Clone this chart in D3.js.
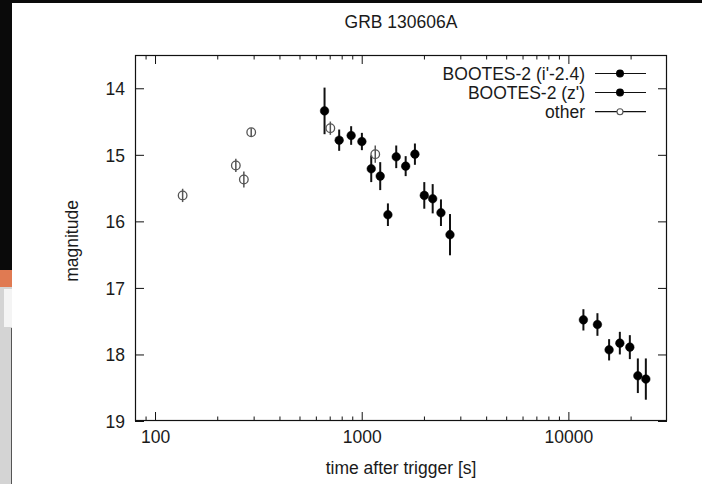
<!DOCTYPE html>
<html><head><meta charset="utf-8">
<script src="https://cdn.jsdelivr.net/npm/d3@7/dist/d3.min.js"></script>
<style>
body{margin:0;background:#fff;}
svg{display:block;}
text{font-family:"Liberation Sans",Arial,Helvetica,sans-serif;fill:#1a1a1a;}
</style>
</head><body>
<svg id="chart" width="702" height="484"></svg>
<script>
// ---- data ----
const title = "GRB 130606A";
const xLabel = "time after trigger [s]";
const yLabel = "magnitude";
const xDomain = [80, 30000];
const yDomain = [13.5, 19];
const xTickValues = [100, 1000, 10000];
const xTickLabels = ["100", "1000", "10000"];
const xMinorTicks = [80, 90, 200, 300, 400, 500, 600, 700, 800, 900, 2000, 3000, 4000, 5000, 6000, 7000, 8000, 9000, 20000];
const yTickValues = [14, 15, 16, 17, 18, 19];
const yTickLabels = ["14", "15", "16", "17", "18", "19"];
const seriesNames = ["BOOTES-2 (i'-2.4)", "BOOTES-2 (z')", "other"];

const iTime = [661, 778, 889, 1002, 1112, 1229, 1339, 1469, 1632, 1809, 2008, 2205, 2418, 2674];
const iMag  = [14.34, 14.78, 14.71, 14.80, 15.21, 15.32, 15.90, 15.03, 15.17, 14.99, 15.61, 15.66, 15.87, 16.20];
const iErr  = [0.35, 0.16, 0.14, 0.13, 0.20, 0.21, 0.17, 0.17, 0.15, 0.16, 0.20, 0.22, 0.20, 0.31];

const zTime = [11820, 13820, 15740, 17740, 19830, 21680, 23700];
const zMag  = [17.48, 17.55, 17.93, 17.83, 17.89, 18.32, 18.37];
const zErr  = [0.16, 0.17, 0.16, 0.17, 0.18, 0.26, 0.31];

const oTime = [136, 246, 269, 292, 705, 1163];
const oMag  = [15.61, 15.16, 15.37, 14.66, 14.60, 14.99];
const oErr  = [0.10, 0.10, 0.12, 0.06, 0.10, 0.13];

// ---- layout ----
const L = 135, R = 667, T = 55, B = 421;
const svg = d3.select("#chart");

// screenshot artefacts at the edges
svg.append("rect").attr("x", 0).attr("y", 0).attr("width", 702).attr("height", 3).attr("fill", "#0a0a0a");
svg.append("rect").attr("x", 0).attr("y", 0).attr("width", 12).attr("height", 270).attr("fill", "#0a0a0a");
svg.append("rect").attr("x", 0).attr("y", 270).attr("width", 12).attr("height", 17).attr("fill", "#e07a52");
svg.append("rect").attr("x", 0).attr("y", 287).attr("width", 12).attr("height", 197).attr("fill", "#d4d4d4");
svg.append("rect").attr("x", 4).attr("y", 289).attr("width", 8).attr("height", 38).attr("fill", "#f4f4f4");
svg.append("line").attr("x1", 11.5).attr("x2", 11.5).attr("y1", 328).attr("y2", 484).attr("stroke", "#555").attr("stroke-width", 1);

const x = d3.scaleLog().domain(xDomain).range([L, R]);
const y = d3.scaleLinear().domain(yDomain).range([T, B]);

// axes (ticks inward)
const major = 9, minor = 4.5;
function noLabels(g){ g.selectAll("text").remove(); g.select(".domain").remove(); }
svg.append("g").attr("transform", `translate(0,${B})`)
  .call(d3.axisBottom(x).tickValues(xTickValues).tickSize(-major).tickFormat((d,i)=>xTickLabels[i]).tickPadding(0))
  .call(g => { g.select(".domain").remove();
    g.selectAll("text").attr("y", 22).attr("dy", 0).attr("font-size", "17.5px").style("font-family","Liberation Sans, Arial, sans-serif").attr("fill","#1a1a1a"); });
svg.append("g").attr("transform", `translate(0,${B})`).call(d3.axisBottom(x).tickValues(xMinorTicks).tickSize(-minor)).call(noLabels);
svg.append("g").attr("transform", `translate(0,${T})`).call(d3.axisTop(x).tickValues(xTickValues).tickSize(-major)).call(noLabels);
svg.append("g").attr("transform", `translate(0,${T})`).call(d3.axisTop(x).tickValues(xMinorTicks).tickSize(-minor)).call(noLabels);
svg.append("g").attr("transform", `translate(${L},0)`)
  .call(d3.axisLeft(y).tickValues(yTickValues).tickSize(-major).tickFormat((d,i)=>yTickLabels[i]).tickPadding(0))
  .call(g => { g.select(".domain").remove();
    g.selectAll("text").attr("x", -10).attr("dy", "0.36em").attr("font-size", "17.5px").style("font-family","Liberation Sans, Arial, sans-serif").attr("fill","#1a1a1a"); });
svg.append("g").attr("transform", `translate(${R},0)`).call(d3.axisRight(y).tickValues(yTickValues).tickSize(-major)).call(noLabels);
svg.selectAll(".tick line").attr("stroke", "#111");

// frame
svg.append("rect").attr("x", L + 0.5).attr("y", T + 0.5).attr("width", R - L - 1).attr("height", B - T - 1)
  .attr("fill", "none").attr("stroke", "#111").attr("stroke-width", 1.2);

// titles
svg.append("text").attr("x", (L + R) / 2).attr("y", 28).attr("text-anchor", "middle").attr("font-size", "17.5px").text(title);
svg.append("text").attr("x", (L + R) / 2).attr("y", 474).attr("text-anchor", "middle").attr("font-size", "17.5px").text(xLabel);
svg.append("text").attr("transform", `translate(78,${(T + B) / 2 + 3}) rotate(-90)`).attr("text-anchor", "middle").attr("font-size", "17.5px").text(yLabel);

// data series
function drawSeries(times, mags, errs, filled) {
  const pts = times.map((t, i) => ({t, m: mags[i], e: errs[i]}));
  const g = svg.append("g");
  g.selectAll("line.err").data(pts).join("line").attr("class", "err")
    .attr("x1", d => x(d.t)).attr("x2", d => x(d.t))
    .attr("y1", d => y(d.m - d.e)).attr("y2", d => y(d.m + d.e))
    .attr("stroke", filled ? "#111" : "#555").attr("stroke-width", filled ? 2 : 1.5);
  g.selectAll("circle").data(pts).join("circle")
    .attr("cx", d => x(d.t)).attr("cy", d => y(d.m)).attr("r", filled ? 4.3 : 4.3)
    .attr("fill", filled ? "#000" : "none").attr("stroke", filled ? "#000" : "#555").attr("stroke-width", filled ? 0.5 : 1.3);
}
drawSeries(iTime, iMag, iErr, true);
drawSeries(zTime, zMag, zErr, true);
drawSeries(oTime, oMag, oErr, false);

// legend
const legY = [73.5, 92.5, 111.7];
const legend = svg.append("g");
seriesNames.forEach((name, i) => {
  legend.append("text").attr("x", 585).attr("y", legY[i]).attr("dy", "0.36em").attr("text-anchor", "end").attr("font-size", "17.5px").text(name);
  legend.append("line").attr("x1", 595).attr("x2", 646).attr("y1", legY[i]).attr("y2", legY[i]).attr("stroke", "#111").attr("stroke-width", 1.2);
  const filled = i < 2;
  legend.append("circle").attr("cx", 620).attr("cy", legY[i]).attr("r", filled ? 3.4 : 3)
    .attr("fill", filled ? "#000" : "#fff").attr("stroke", filled ? "#000" : "#555").attr("stroke-width", 1.1);
});
</script>
</body></html>
